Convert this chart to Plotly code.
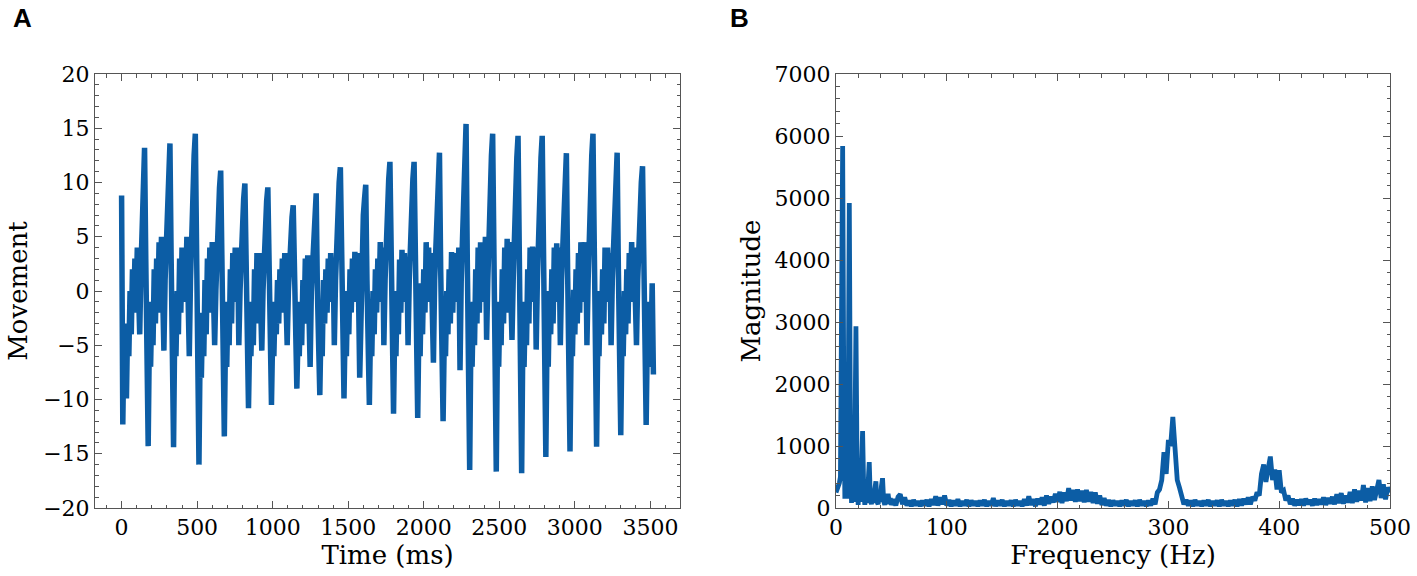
import numpy as np
import plotly.graph_objects as go

# ---------------- Panel A: movement trace (8 ms samples) ----------------
sample_step_ms = 8
movement = [
    # start
    8.8, -12.3, -4, -7, -9.9, -3, -6, 0, -4, 2, -2, 3, -1, 4, 0, -4, 2, 7, 11,
    # cycles, each row starts at a peak
    13.2, 3, -9.5, -14.3, -4, -7, -1, -5, 2, -3, 3, -2, 4.5, 0, 5, 1, -5.5, 1, 5, 9, 11.5,
    13.6, 3, -9.5, -14.4, -3, -6, 0, -4, 3, -2, 4, -1, 4, 0, 5, 0, -6, 1, 6, 10, 12.5,
    14.5, 2, -10, -16.0, -5, -8, -2, -6, 1, -4, 3, -2, 4, -1, 4.5, 0, -5, 0, 4, 7, 9.5,
    11.1, 2, -9, -13.4, -4, -7, -1, -5, 2, -3, 3.5, -1, 4, 0, 4, -5, 0, 4, 7, 8.5,
    9.9, 1, -7, -10.8, -4, -6, -1, -5, 2, -3, 3.5, -1, 3.5, 0, -5.5, 0, 4, 6.5, 8.3,
    9.55, 1, -7, -10.5, -4, -6, -1, -4, 1, -3, 2, -2, 3, -1, 3.5, 0, -5, 0, 3, 5, 6.8,
    7.9, 0, -6, -9.0, -4, -6, -1, -5, 1, -3, 3, -1, 3.3, 0, -7, 0, 3, 6, 7.8,
    9.0, 0, -6, -9.6, -3, -6, 1, -3, 2, -2, 3, -1, 3.5, 0, 3, -5, 1, 5, 8, 10,
    11.4, 1, -7, -9.9, -3, -6, 0, -4, 2, -2, 3, -1, 3.6, 0, 3.5, 0, -8, 0, 4, 7, 8.5,
    9.8, 1, -7, -10.5, -3, -6, 0, -4, 2, -2, 3, -1, 4.5, 0, 4, -5, 1, 5, 8, 10.3,
    11.9, 1, -8, -11.3, -3, -6, 0, -4, 2.9, -2, 3.8, -1, 3.5, 0, 3, -5, 1, 5, 8, 10.3,
    11.9, 1, -8, -11.7, -3, -6, 0.7, -4, 2, -2, 4.5, -1, 4, 0, 3.5, 0, -6.6, 1, 5, 8.5, 11,
    12.75, 2, -8, -12.0, -4, -6, 0, -4, 2, -3, 3.6, -2, 3.5, -1, 3.5, 0, 4, -7.3, 1, 6, 10, 13,
    15.4, 3, -11, -16.5, -4, -7, -1, -5, 2, -3, 4, -2, 4.5, -1, 4, 0, 5, -4.5, 1, 6, 10, 12.5,
    14.5, 3, -11, -16.65, -4, -7, -1, -5, 2, -3, 4, -2, 4.8, -1, 4.5, 0, -4.5, 1, 6, 10, 12.3,
    14.3, 3, -11, -16.8, -4, -7, -1, -5, 2, -3, 4, -1, 4.1, 0, 4, -5.4, 1, 6, 10, 12.3,
    14.3, 3, -10, -15.3, -4, -7, 0, -4, 2, -3, 4, -1, 4.4, 0, 4, -5, 1, 5, 9, 11,
    12.7, 2, -10, -14.8, -4, -6, 0.1, -4, 2, -3, 3.5, -2, 4.5, -1, 4, 0, 4.5, -5, 1, 6, 10, 12.5,
    14.5, 3, -9.5, -14.35, -4, -6, 0, -4, 2, -3, 4, -1, 4, 0, 3.5, -5, 1, 5, 9, 11,
    12.75, 2, -9, -13.3, -4, -6, 0, -4, 2, -3, 3.5, -1, 4.5, 0, 4, 0, -5, 1, 5, 8, 10,
    11.5, 3, -8, -12.35, -4, -7, -1, -5, 0.7, -7.7,
]
time_ms = np.arange(len(movement)) * sample_step_ms

# ---------------- Panel B: spectrum ----------------
freq_low_hz = np.arange(0, 51, 1)
mag_low = [250, 300, 330, 400, 500, 2500, 5840, 2000, 150, 1050,
           150, 1500, 4920, 1200, 80, 600, 100, 1000, 2930, 700,
           50, 400, 100, 600, 1240, 300, 50, 300, 80, 400,
           740, 150, 60, 250, 80, 300, 430, 100, 60, 200,
           100, 350, 480, 120, 50, 200, 60, 230, 100, 160,
           50]
freq_high_hz = np.arange(52, 501, 2)
mag_high = [
    140, 40, 180, 220, 60, 170, 40, 120, 30, 130,
    40, 110, 30, 120, 40, 130, 30, 140, 50, 190,
    40, 170, 60, 200, 40, 130, 30, 120, 40, 140,
    30, 110, 40, 130, 30, 120, 40, 110, 30, 120,
    40, 130, 30, 110, 40, 160, 30, 120, 40, 130,
    30, 110, 40, 120, 30, 130, 40, 110, 30, 140,
    40, 190, 50, 140, 30, 150, 60, 170, 40, 200,
    70, 180, 90, 230, 100, 260, 80, 250, 110, 320,
    120, 290, 100, 300, 110, 280, 90, 290, 100, 260,
    80, 250, 70, 200, 50, 160, 40, 130, 30, 120,
    40, 110, 30, 120, 40, 130, 30, 110, 40, 120,
    30, 130, 40, 110, 30, 120, 40, 150, 60, 250,
    300, 450, 900, 550, 1100, 1000, 1470, 780, 450, 330,
    150, 60, 130, 40, 120, 30, 130, 40, 110, 30,
    120, 40, 130, 30, 110, 40, 120, 30, 130, 40,
    110, 30, 120, 40, 130, 30, 140, 40, 150, 60,
    170, 60, 180, 120, 250, 200, 550, 700, 420, 650,
    830, 450, 620, 300, 610, 250, 280, 120, 200, 60,
    150, 40, 130, 50, 140, 40, 150, 60, 130, 40,
    150, 50, 140, 60, 170, 50, 160, 70, 180, 60,
    220, 80, 240, 70, 200, 90, 260, 80, 300, 100,
    280, 120, 370, 90, 320, 110, 350, 130, 300, 450,
    160, 380, 140, 330, 250,
]
n_hi = min(len(freq_high_hz), len(mag_high))
freq_hz = np.concatenate([freq_low_hz, freq_high_hz[:n_hi]])
magnitude = np.array(mag_low + mag_high[:n_hi])

x_ticks_a = [0, 500, 1000, 1500, 2000, 2500, 3000, 3500]
y_ticks_a = [-20, -15, -10, -5, 0, 5, 10, 15, 20]
x_ticks_b = [0, 100, 200, 300, 400, 500]
y_ticks_b = [0, 1000, 2000, 3000, 4000, 5000, 6000, 7000]

W, H = 1417, 576
LINE = "#0C5DA5"
FRAME = "#555555"
SERIF = "DejaVu Serif"

fig = go.Figure()
fig.add_trace(go.Scatter(x=time_ms, y=movement, mode="lines",
                         line=dict(color=LINE, width=5.5), xaxis="x", yaxis="y",
                         showlegend=False, hoverinfo="skip"))
fig.add_trace(go.Scatter(x=freq_hz, y=magnitude, mode="lines",
                         line=dict(color=LINE, width=4.8), xaxis="x2", yaxis="y2",
                         showlegend=False, hoverinfo="skip", cliponaxis=True))

def ax(**kw):
    base = dict(showline=True, linecolor=FRAME, linewidth=1, mirror="allticks",
                ticks="inside", ticklen=7, tickwidth=1, tickcolor=FRAME,
                showgrid=False, zeroline=False,
                tickfont=dict(family=SERIF, size=22, color="black"),
                automargin=False)
    base.update(kw)
    return base

ybot = 1 - 508 / H
ytop = 1 - 74 / H

fig.update_layout(
    width=W, height=H,
    margin=dict(l=0, r=0, t=0, b=0),
    paper_bgcolor="white", plot_bgcolor="white",
    xaxis=ax(domain=[95 / W, 680 / W], range=[-176, 3696],
             tickvals=x_ticks_a,
             minor=dict(ticks="inside", ticklen=3.5, dtick=100, tick0=0, tickcolor=FRAME),
             title=dict(text="Time (ms)", font=dict(family=SERIF, size=26, color="black"), standoff=4),
             anchor="y"),
    yaxis=ax(domain=[ybot, ytop], range=[-20, 20], tickvals=y_ticks_a,
             minor=dict(ticks="inside", ticklen=3.5, dtick=1, tick0=0, tickcolor=FRAME),
             title=dict(text="Movement", font=dict(family=SERIF, size=26, color="black"), standoff=8),
             anchor="x"),
    xaxis2=ax(domain=[836 / W, 1390 / W], range=[0, 500], tickvals=x_ticks_b,
              minor=dict(ticks="inside", ticklen=3.5, dtick=20, tick0=0, tickcolor=FRAME),
              title=dict(text="Frequency (Hz)", font=dict(family=SERIF, size=26, color="black"), standoff=4),
              anchor="y2"),
    yaxis2=ax(domain=[ybot, ytop], range=[0, 7000], tickvals=y_ticks_b,
              minor=dict(ticks="inside", ticklen=3.5, dtick=200, tick0=0, tickcolor=FRAME),
              title=dict(text="Magnitude", font=dict(family=SERIF, size=26, color="black"), standoff=6),
              anchor="x2"),
    annotations=[
        dict(text="<b>A</b>", x=22 / W, y=1 - 18 / H, xref="paper", yref="paper",
             showarrow=False, font=dict(family="Liberation Sans", size=26, color="black"),
             xanchor="center", yanchor="middle"),
        dict(text="<b>B</b>", x=739 / W, y=1 - 18 / H, xref="paper", yref="paper",
             showarrow=False, font=dict(family="Liberation Sans", size=26, color="black"),
             xanchor="center", yanchor="middle"),
    ],
)

fig.write_html("out.html", config={"displayModeBar": False},
               post_script="document.body.style.margin='0px';document.body.style.overflow='hidden';")
